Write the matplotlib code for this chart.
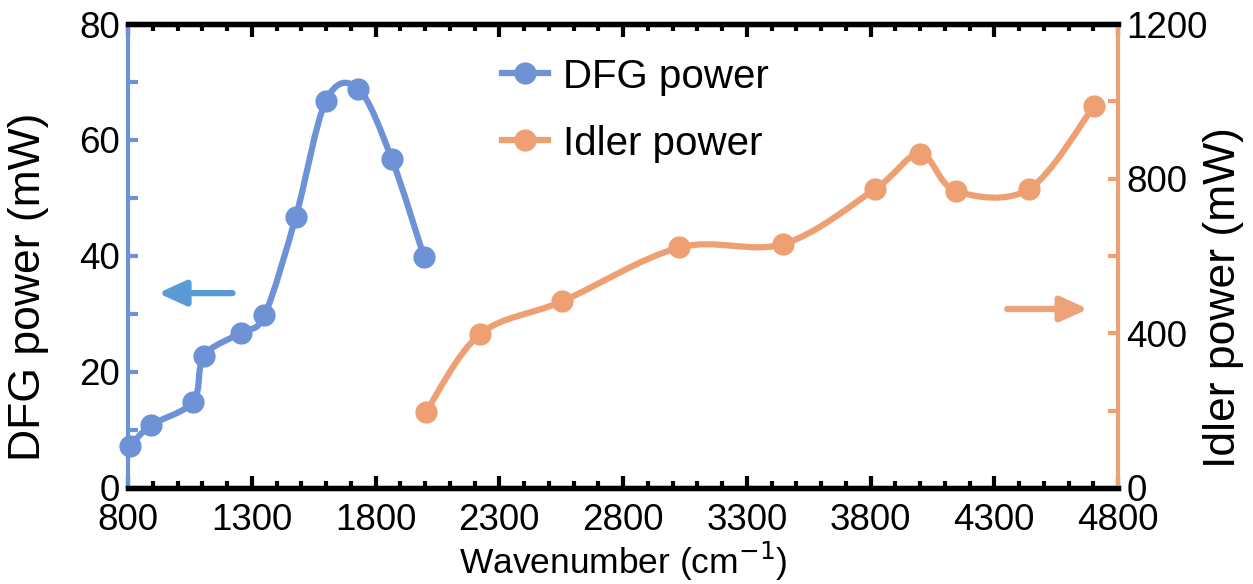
import numpy as np
import matplotlib
matplotlib.use("Agg")
import matplotlib.pyplot as plt
from matplotlib.path import Path
from matplotlib.patches import PathPatch
from matplotlib.lines import Line2D
from matplotlib.ticker import FixedLocator, MultipleLocator

plt.rcParams["font.family"] = ["Liberation Sans", "DejaVu Sans"]

# values
dfg_wn = [808, 892, 1063, 1107, 1257, 1351, 1478, 1600, 1731, 1865, 1996]
dfg_mw = [7.2, 10.8, 14.9, 22.8, 26.8, 29.8, 46.8, 66.8, 68.8, 56.8, 39.8]

idler_wn = [2003, 2222, 2555, 3028, 3448, 3818, 4000, 4145, 4440, 4703]
idler_mw = [196, 398, 483, 622, 631, 773, 864, 768, 773, 988]

x_ticks = [800, 1300, 1800, 2300, 2800, 3300, 3800, 4300, 4800]
left_ticks = [0, 20, 40, 60, 80]
right_ticks = [0, 400, 800, 1200]

BLUE = "#6d93d6"
ORANGE = "#eea072"
BLUE_ARROW = "#5b9bd5"
ORANGE_ARROW = "#eda27a"


def smooth_path(xs, ys):
    # Excel-style smoothed line: cubic Bezier segments, Catmull-Rom control points
    pts = np.column_stack([xs, ys]).astype(float)
    n = len(pts)
    verts = [pts[0]]
    codes = [Path.MOVETO]
    for i in range(n - 1):
        p0 = pts[i - 1] if i > 0 else pts[i]
        p1, p2 = pts[i], pts[i + 1]
        p3 = pts[i + 2] if i + 2 < n else pts[i + 1]
        verts += [p1 + (p2 - p0) / 6, p2 - (p3 - p1) / 6, p2]
        codes += [Path.CURVE4] * 3
    return Path(verts, codes)


fig = plt.figure(figsize=(12.53, 5.84), dpi=100)
ax = fig.add_axes([0.1022, 0.1644, 0.7901, 0.7945])
ax2 = ax.twinx()

ax.add_patch(PathPatch(smooth_path(dfg_wn, dfg_mw), fill=False, edgecolor=BLUE,
                       lw=4.5, capstyle="round", joinstyle="round", clip_on=False, zorder=3))
ax.plot(dfg_wn, dfg_mw, "o", color=BLUE, ms=15, clip_on=False, zorder=4)

ax2.add_patch(PathPatch(smooth_path(idler_wn, idler_mw), fill=False, edgecolor=ORANGE,
                        lw=4.5, capstyle="round", joinstyle="round", clip_on=False, zorder=3))
ax2.plot(idler_wn, idler_mw, "o", color=ORANGE, ms=15, clip_on=False, zorder=4)

ax.set_xlim(800, 4800)
ax.set_ylim(0, 80)
ax2.set_ylim(0, 1200)

ax.xaxis.set_major_locator(FixedLocator(x_ticks))
ax.xaxis.set_minor_locator(MultipleLocator(100))
ax.yaxis.set_major_locator(FixedLocator(left_ticks))
ax.yaxis.set_minor_locator(MultipleLocator(10))
ax2.yaxis.set_major_locator(FixedLocator(right_ticks))
ax2.yaxis.set_minor_locator(MultipleLocator(200))

for a in (ax, ax2):
    for side in ("top", "bottom"):
        a.spines[side].set_color("black")
        a.spines[side].set_linewidth(3.8)
ax.spines["left"].set_color(BLUE)
ax.spines["left"].set_linewidth(3)
ax.spines["right"].set_visible(False)
ax2.spines["left"].set_visible(False)
ax2.spines["right"].set_color(ORANGE)
ax2.spines["right"].set_linewidth(3)

ax.tick_params(axis="x", which="both", direction="in", top=True, bottom=True,
               color="black", width=3, labelsize=26.5, pad=11)
ax.tick_params(axis="x", which="major", length=9)
ax.tick_params(axis="x", which="minor", length=5)
ax.tick_params(axis="y", which="both", direction="in", color=BLUE, width=3,
               length=7, labelsize=26.5, pad=6)
ax2.tick_params(axis="y", which="both", direction="in", color=ORANGE, width=3,
                length=7, labelsize=26.5, pad=6)

ax.set_xlabel("Wavenumber (cm$^{-1}$)", fontsize=25.5, labelpad=1)
ax.set_ylabel("DFG power (mW)", fontsize=32)
ax.yaxis.set_label_coords(-0.080, 0.433)
ax2.set_ylabel("Idler power (mW)", fontsize=32)
ax2.yaxis.set_label_coords(1.086, 0.41)

arrow_style = "-|>,head_length=1.65,head_width=0.75"
ax.annotate("", xy=(921, 33.6), xytext=(1222, 33.6),
            arrowprops=dict(arrowstyle=arrow_style, color=BLUE_ARROW, lw=4.5,
                            shrinkA=0, shrinkB=0))
ax2.annotate("", xy=(4679, 463), xytext=(4352, 463),
             arrowprops=dict(arrowstyle=arrow_style, color=ORANGE_ARROW, lw=4.5,
                             shrinkA=0, shrinkB=0))

handles = [Line2D([], [], color=BLUE, lw=4.5, marker="o", ms=15),
           Line2D([], [], color=ORANGE, lw=4.5, marker="o", ms=15)]
ax2.legend(handles, ["DFG power", "Idler power"], loc="upper left",
           bbox_to_anchor=(0.357, 0.971), frameon=False, fontsize=29,
           borderpad=0, handlelength=1.15, handletextpad=0.37, labelspacing=0.72)

fig.savefig("out.png", dpi=100)
